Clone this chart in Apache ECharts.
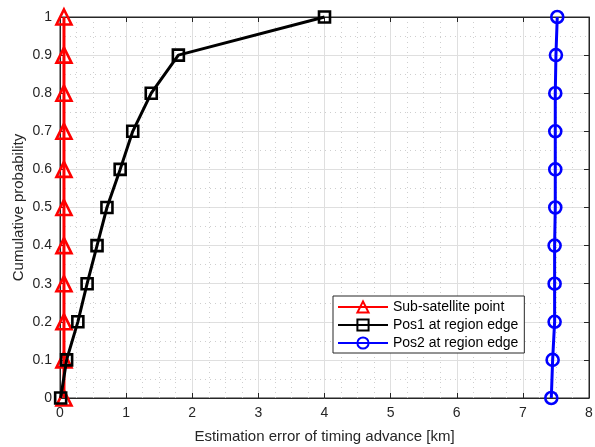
<!DOCTYPE html>
<html><head><meta charset="utf-8">
<script src="https://cdn.jsdelivr.net/npm/echarts@6/dist/echarts.min.js"></script>
<style>html,body{margin:0;padding:0;background:#fff}#c{width:595px;height:447px}</style>
</head><body><div id="c"></div>
<script>
var probs = [0,0.1,0.2,0.3,0.4,0.5,0.6,0.7,0.8,0.9,1.0];
var subSat = [0.06,0.06,0.06,0.06,0.06,0.06,0.06,0.06,0.06,0.06,0.06];
var pos1 = [0.01,0.1,0.27,0.41,0.56,0.71,0.91,1.1,1.38,1.79,4.0];
var pos2 = [7.43,7.45,7.48,7.48,7.48,7.49,7.49,7.49,7.49,7.50,7.52];
var names = ['Sub-satellite point','Pos1 at region edge','Pos2 at region edge'];
var colors = ['#ff0000','#000000','#0000ff'];
var symbols = ['triangle','rect','circle'];
var xTicks = [0,1,2,3,4,5,6,7,8];
var yTicks = [0,0.1,0.2,0.3,0.4,0.5,0.6,0.7,0.8,0.9,1];

function pairs(xs){ return xs.map(function(v,i){return [v, probs[i]];}); }
var font = 'Liberation Sans, Arial, Helvetica, sans-serif';
var axisCol = '#262626';
function mkSeries(i, xs, size){
  return {
    name: names[i], type: 'line', data: pairs(xs), clip: false,
    xAxisIndex: 0, yAxisIndex: 0,
    symbol: symbols[i], symbolSize: size,
    lineStyle: {color: colors[i], width: 3},
    itemStyle: {color: 'rgba(255,255,255,0)', borderColor: colors[i], borderWidth: 2.6},
    emphasis: {disabled: true}, z: 5 + i
  };
}
var chart = echarts.init(document.getElementById('c'), null, {renderer: 'canvas'});
chart.setOption({
  animation: false,
  backgroundColor: '#fff',
  grid: {left: 60, right: 6, top: 17, bottom: 49, containLabel: false, outerBoundsMode: 'none',
    show: true, borderColor: axisCol, borderWidth: 1, backgroundColor: 'transparent'},
  legend: {
    orient: 'vertical', left: 333, top: 296,
    data: names,
    backgroundColor: '#fff', borderColor: '#262626', borderWidth: 1, borderRadius: 0,
    padding: [4, 6, 3, 4], itemGap: 4, itemWidth: 50, itemHeight: 14,
    textStyle: {fontFamily: font, fontSize: 14, color: '#000'}
  },
  xAxis: [{
    type: 'value', min: 0, max: 8, interval: 1, gridIndex: 0, position: 'bottom',
    name: 'Estimation error of timing advance [km]', nameLocation: 'middle', nameGap: 31,
    nameTextStyle: {fontFamily: font, fontSize: 15, color: '#262626'},
    axisLine: {onZero: false, lineStyle: {color: axisCol, width: 1}},
    axisTick: {inside: true, length: 5, lineStyle: {color: axisCol}},
    axisLabel: {fontFamily: font, fontSize: 14, color: '#262626', margin: 8,
      formatter: function(v){ return xTicks.indexOf(v) >= 0 ? String(v) : ''; }},
    splitLine: {show: true, lineStyle: {color: '#dfdfdf', width: 1}},
    minorTick: {show: false, splitNumber: 4},
    minorSplitLine: {show: true, lineStyle: {color: '#cfcfcf', type: [1, 4], width: 1}}
  }, {
    type: 'value', min: 0, max: 8, interval: 1, gridIndex: 0, position: 'top', show: true,
    axisLine: {show: true, onZero: false, lineStyle: {color: axisCol}},
    axisTick: {show: true, inside: true, length: 5, lineStyle: {color: axisCol}},
    axisLabel: {show: false}, splitLine: {show: false}
  }],
  yAxis: [{
    type: 'value', min: 0, max: 1, interval: 0.1, gridIndex: 0, position: 'left',
    name: 'Cumulative probability', nameLocation: 'middle', nameGap: 34, nameMoveOverlap: false,
    nameTextStyle: {fontFamily: font, fontSize: 15, color: '#262626'},
    axisLine: {show: true, onZero: false, lineStyle: {color: axisCol, width: 1}},
    axisTick: {show: true, inside: true, length: 5, lineStyle: {color: axisCol}},
    axisLabel: {fontFamily: font, fontSize: 14, color: '#262626', margin: 8,
      formatter: function(v){ var r = Math.round(v*10)/10; return String(r); }},
    splitLine: {show: true, lineStyle: {color: '#dfdfdf', width: 1}},
    minorTick: {show: false, splitNumber: 2},
    minorSplitLine: {show: true, lineStyle: {color: '#cfcfcf', type: [1, 4], width: 1}}
  }, {
    type: 'value', min: 0, max: 1, interval: 0.1, gridIndex: 0, position: 'right', show: true,
    axisLine: {show: true, onZero: false, lineStyle: {color: axisCol}},
    axisTick: {show: true, inside: true, length: 5, lineStyle: {color: axisCol}},
    axisLabel: {show: false}, splitLine: {show: false}
  }],
  series: [
    mkSeries(0, subSat, 15),
    mkSeries(1, pos1, 11),
    mkSeries(2, pos2, 12),
    {name: 'frame', type: 'line', xAxisIndex: 1, yAxisIndex: 1, data: [], silent: true}
  ]
});
</script></body></html>
